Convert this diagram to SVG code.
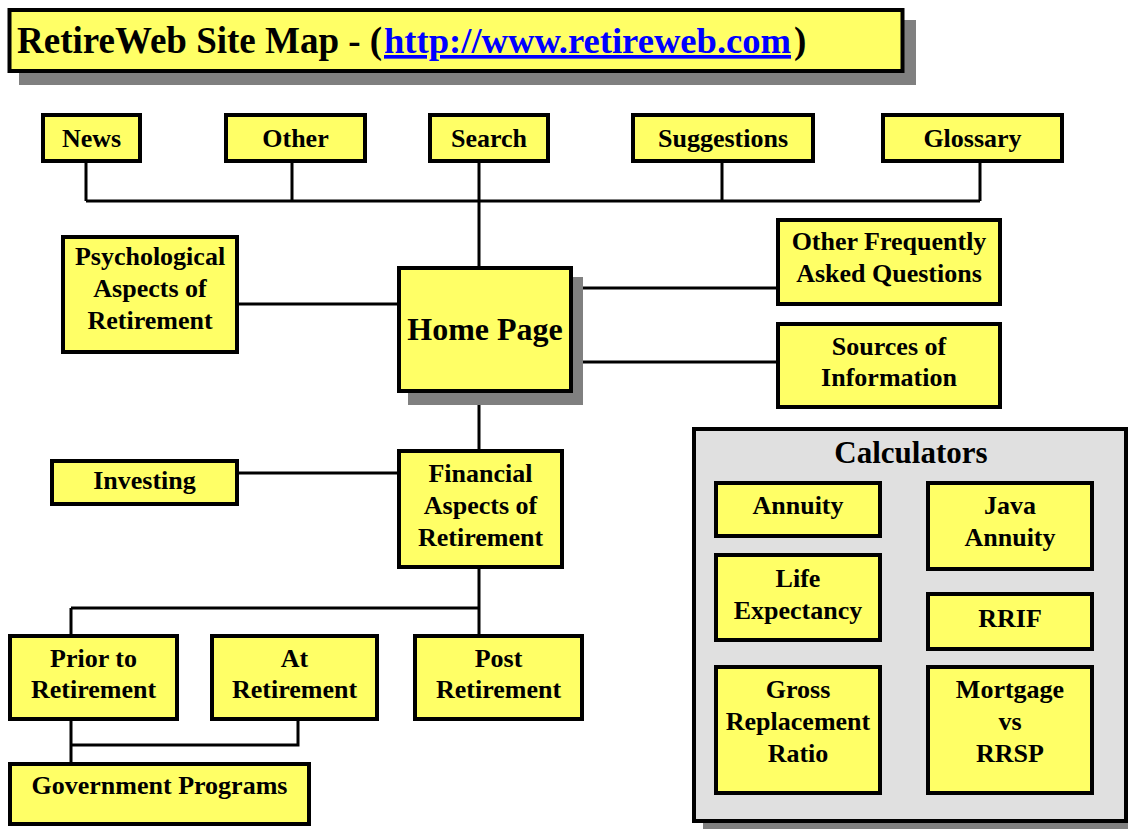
<svg xmlns="http://www.w3.org/2000/svg" width="1128" height="829" viewBox="0 0 1128 829">
<style>
.box{fill:#ffff66;stroke:#000;stroke-width:4}
.shadow{fill:#808080}
.calc{fill:#e0e0e0;stroke:#000;stroke-width:4}
.lbl{font-family:"Liberation Serif","Times New Roman",serif;font-weight:bold;font-size:26px;fill:#000;text-anchor:middle}
.ttl{font-family:"Liberation Serif","Times New Roman",serif;font-weight:bold;font-size:37px;fill:#000}
.conn{fill:none;stroke:#000;stroke-width:3}
</style>
<rect width="1128" height="829" fill="#fff"/>
<g id="title">
<rect class="shadow" x="19" y="20" width="897" height="65"/>
<rect class="box" x="9.5" y="10" width="893" height="61"/>
<text class="ttl" x="17" y="53">RetireWeb Site Map - (</text>
<text class="ttl" x="384" y="53" style="fill:#0000ff;font-size:36.6px" text-decoration="underline">http://www.retireweb.com</text>
<text class="ttl" x="794" y="53">)</text>
</g>
<g id="connectors">
<path class="conn" d="M86,163V201M292,163V201M722,163V201M980,163V201M86,201H980M479,163V267"/>
<path class="conn" d="M239,304H397M573,288H776M573,362H776M479,393V449M239,473H397"/>
<path class="conn" d="M479,569V634M71,608H479M71,608V634M71,721V762M298,721V745H71"/>
</g>
<g id="news"><rect class="box" x="43" y="115" width="97" height="46"/><text class="lbl" x="91.5" y="147">News</text></g>
<g id="other"><rect class="box" x="226" y="115" width="139" height="46"/><text class="lbl" x="295.5" y="147">Other</text></g>
<g id="search"><rect class="box" x="430" y="115" width="118" height="46"/><text class="lbl" x="489" y="147">Search</text></g>
<g id="suggestions"><rect class="box" x="633" y="115" width="180" height="46"/><text class="lbl" x="723" y="147">Suggestions</text></g>
<g id="glossary"><rect class="box" x="883" y="115" width="179" height="46"/><text class="lbl" x="972.5" y="147">Glossary</text></g>
<g id="psychological"><rect class="box" x="63" y="237" width="174" height="115"/><text class="lbl" x="150" y="265">Psychological</text><text class="lbl" x="150" y="297">Aspects of</text><text class="lbl" x="150" y="329">Retirement</text></g>
<g id="home"><rect class="shadow" x="408" y="277" width="175" height="128"/><rect class="box" x="399" y="268" width="172" height="123"/><text class="lbl" x="485" y="340" style="font-size:32px">Home Page</text></g>
<g id="faq"><rect class="box" x="778" y="220" width="222" height="84"/><text class="lbl" x="889" y="250">Other Frequently</text><text class="lbl" x="889" y="282">Asked Questions</text></g>
<g id="sources"><rect class="box" x="778" y="324" width="222" height="83"/><text class="lbl" x="889" y="355">Sources of</text><text class="lbl" x="889" y="386">Information</text></g>
<g id="investing"><rect class="box" x="52" y="461" width="185" height="43"/><text class="lbl" x="144.5" y="489">Investing</text></g>
<g id="financial"><rect class="box" x="399" y="451" width="163" height="116"/><text class="lbl" x="480.5" y="482">Financial</text><text class="lbl" x="480.5" y="514">Aspects of</text><text class="lbl" x="480.5" y="546">Retirement</text></g>
<g id="prior"><rect class="box" x="10" y="636" width="167" height="83"/><text class="lbl" x="93.5" y="667">Prior to</text><text class="lbl" x="93.5" y="698">Retirement</text></g>
<g id="at"><rect class="box" x="212" y="636" width="165" height="83"/><text class="lbl" x="294.5" y="667">At</text><text class="lbl" x="294.5" y="698">Retirement</text></g>
<g id="post"><rect class="box" x="415" y="636" width="167" height="83"/><text class="lbl" x="498.5" y="667">Post</text><text class="lbl" x="498.5" y="698">Retirement</text></g>
<g id="government"><rect class="box" x="10" y="764" width="299" height="60"/><text class="lbl" x="159.5" y="794">Government Programs</text></g>
<g id="calculators">
<rect class="shadow" x="703" y="438" width="436" height="400"/>
<rect class="calc" x="694" y="429" width="432" height="392"/>
<text class="lbl" x="911" y="463" style="font-size:31px">Calculators</text>
</g>
<g id="annuity"><rect class="box" x="716" y="483" width="164" height="53"/><text class="lbl" x="798" y="514">Annuity</text></g>
<g id="java-annuity"><rect class="box" x="928" y="483" width="164" height="86"/><text class="lbl" x="1010" y="514">Java</text><text class="lbl" x="1010" y="546">Annuity</text></g>
<g id="life-expectancy"><rect class="box" x="716" y="555" width="164" height="85"/><text class="lbl" x="798" y="587">Life</text><text class="lbl" x="798" y="619">Expectancy</text></g>
<g id="rrif"><rect class="box" x="928" y="594" width="164" height="55"/><text class="lbl" x="1010" y="627">RRIF</text></g>
<g id="gross"><rect class="box" x="716" y="667" width="164" height="126"/><text class="lbl" x="798" y="698">Gross</text><text class="lbl" x="798" y="730">Replacement</text><text class="lbl" x="798" y="762">Ratio</text></g>
<g id="mortgage"><rect class="box" x="928" y="667" width="164" height="126"/><text class="lbl" x="1010" y="698">Mortgage</text><text class="lbl" x="1010" y="730">vs</text><text class="lbl" x="1010" y="762">RRSP</text></g>
</svg>
